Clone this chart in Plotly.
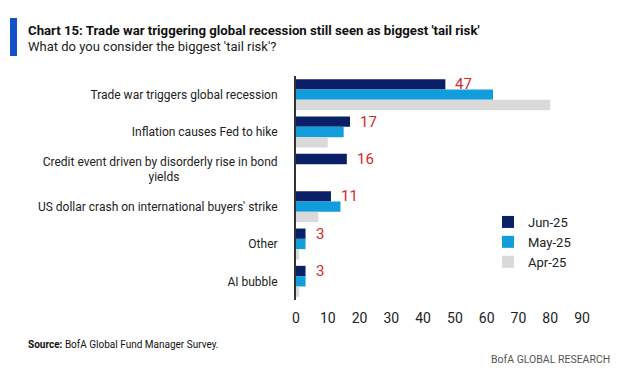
import plotly.graph_objects as go

categories = [
    "Trade war triggers global recession",
    "Inflation causes Fed to hike",
    "Credit event driven by disorderly rise in bond yields",
    "US dollar crash on international buyers' strike",
    "Other",
    "AI bubble",
]
series_names = ["Jun-25", "May-25", "Apr-25"]
jun_25 = [47, 17, 16, 11, 3, 3]
may_25 = [62, 15, 0, 14, 3, 3]
apr_25 = [80, 10, 0, 7, 1, 1]
x_ticks = [0, 10, 20, 30, 40, 50, 60, 70, 80, 90]

title_text = "Chart 15: Trade war triggering global recession still seen as biggest 'tail risk'"
subtitle_text = "What do you consider the biggest 'tail risk'?"
source_text = "<b>Source:</b> BofA Global Fund Manager Survey."
brand_text = "BofA GLOBAL RESEARCH"

colors = ["#0B1F66", "#119CDB", "#D9D9D9"]
label_color = "#D42A2A"
FONT = "Roboto, Liberation Sans Narrow, sans-serif"

W, H = 624, 375
PL, PR, PT, PB = 296, 582, 76, 300


def px2x(px):
    return (px - PL) / (PR - PL)


def py2y(py):
    return (PB - py) / (PB - PT)


# tick text (wrap the long credit label, second line centred with nbsp padding)
ticktext = []
for c in categories:
    if c.startswith("Credit event"):
        ticktext.append("Credit event driven by disorderly rise in bond<br>yields" + "\u00a0" * 33)
    else:
        ticktext.append(c)

fig = go.Figure()
for name, vals, col in zip(series_names, [jun_25, may_25, apr_25], colors):
    fig.add_trace(go.Bar(
        y=categories, x=vals, name=name, orientation="h",
        marker=dict(color=col, line=dict(width=0)),
    ))

annotations = []
for c, v in zip(categories, jun_25):
    annotations.append(dict(
        x=v, y=c, xref="x", yref="y", text=str(v), showarrow=False,
        xanchor="left", yanchor="middle", xshift=8, yshift=10.5,
        font=dict(family=FONT, size=15, color=label_color),
    ))

annotations += [
    dict(x=px2x(26), y=py2y(30), xref="paper", yref="paper", text="<b>" + title_text + "</b>",
         showarrow=False, xanchor="left", yanchor="middle",
         font=dict(family=FONT, size=13.2, color="#111111")),
    dict(x=px2x(26), y=py2y(47), xref="paper", yref="paper", text=subtitle_text,
         showarrow=False, xanchor="left", yanchor="middle",
         font=dict(family=FONT, size=13, color="#222222")),
    dict(x=px2x(26), y=py2y(344), xref="paper", yref="paper", text=source_text,
         showarrow=False, xanchor="left", yanchor="middle",
         font=dict(family=FONT, size=10, color="#111111")),
    dict(x=px2x(612), y=py2y(359), xref="paper", yref="paper", text=brand_text,
         showarrow=False, xanchor="right", yanchor="middle",
         font=dict(family=FONT, size=10.5, color="#555555")),
]

fig.update_layout(
    width=W, height=H, autosize=False,
    margin=dict(l=PL, r=W - PR, t=PT, b=H - PB, pad=0),
    paper_bgcolor="white", plot_bgcolor="white",
    barmode="group", bargap=0.17, bargroupgap=0,
    font=dict(family=FONT, color="#222222"),
    showlegend=True,
    legend=dict(
        x=px2x(488), y=py2y(207), xanchor="left", yanchor="top",
        font=dict(family=FONT, size=13, color="#222222"),
        bgcolor="rgba(0,0,0,0)", traceorder="normal",
        itemwidth=30, tracegroupgap=0,
    ),
    annotations=annotations,
    shapes=[dict(type="rect", xref="paper", yref="paper",
                 x0=px2x(10), x1=px2x(17), y0=py2y(56), y1=py2y(18),
                 fillcolor="#1450C8", line=dict(width=0))],
)

fig.update_xaxes(
    range=[0, 90], tickmode="array", tickvals=x_ticks, ticktext=[str(t) for t in x_ticks],
    showgrid=False, zeroline=False, showline=False, ticks="",
    tickfont=dict(family=FONT, size=14, color="#222222"),
    ticklabelstandoff=8, automargin=False, fixedrange=True,
)
fig.update_yaxes(
    categoryorder="array", categoryarray=categories,
    tickmode="array", tickvals=categories, ticktext=ticktext,
    range=[5.5, -0.5], showgrid=False, zeroline=False,
    showline=True, linecolor="#333333", linewidth=2, ticks="",
    tickfont=dict(family=FONT, size=12, color="#222222"),
    ticklabelstandoff=14, automargin=False, fixedrange=True,
)

fig.write_html("out.html", config={"displayModeBar": False},
               post_script="document.body.style.margin='0px';")
